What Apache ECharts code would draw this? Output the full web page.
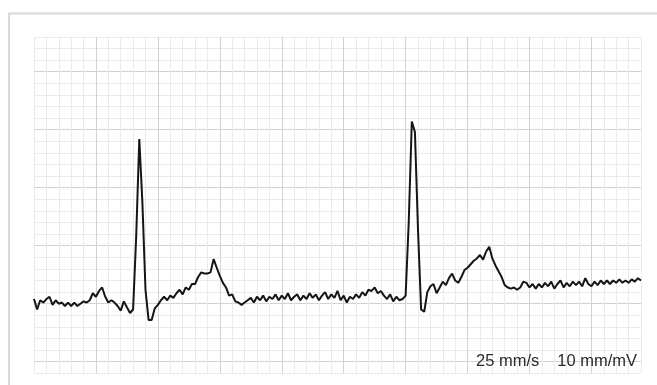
<!DOCTYPE html>
<html>
<head>
<meta charset="utf-8">
<script src="https://cdn.jsdelivr.net/npm/echarts@6/dist/echarts.min.js"></script>
<style>
html,body{margin:0;padding:0;background:#fff;}
#c{width:657px;height:385px;}
</style>
</head>
<body>
<div id="c"></div>
<script>
// Sampling: 25 mm/s paper speed, one sample every 0.01 s
const sampleStep = 0.01;
// Trace amplitude in mV (10 mm/mV), 0 = the heavy grid line near the bottom
const ecgValues = [
  0.54,0.45,0.53,0.51,0.54,0.56,0.49,0.53,0.50,0.51,
  0.48,0.51,0.48,0.51,0.48,0.50,0.52,0.51,0.53,0.59,
  0.56,0.61,0.64,0.56,0.51,0.53,0.51,0.48,0.44,0.52,
  0.47,0.42,0.45,1.08,1.92,1.37,0.62,0.36,0.36,0.46,
  0.49,0.53,0.56,0.53,0.57,0.55,0.59,0.62,0.58,0.64,
  0.62,0.67,0.67,0.73,0.77,0.76,0.76,0.77,0.885,0.81,
  0.74,0.68,0.64,0.57,0.58,0.52,0.51,0.49,0.51,0.53,
  0.55,0.51,0.56,0.53,0.57,0.52,0.56,0.54,0.58,0.53,
  0.57,0.54,0.59,0.53,0.56,0.58,0.53,0.57,0.54,0.59,
  0.55,0.58,0.53,0.57,0.60,0.54,0.58,0.55,0.61,0.53,
  0.57,0.51,0.56,0.54,0.58,0.55,0.60,0.57,0.62,0.61,
  0.64,0.59,0.61,0.57,0.54,0.58,0.52,0.56,0.53,0.54,
  0.57,1.20,2.07,1.98,1.13,0.45,0.43,0.60,0.65,0.67,
  0.59,0.64,0.69,0.66,0.72,0.76,0.70,0.68,0.73,0.79,
  0.81,0.84,0.87,0.89,0.92,0.88,0.95,0.99,0.89,0.83,
  0.78,0.73,0.66,0.64,0.63,0.64,0.62,0.64,0.69,0.68,
  0.64,0.67,0.63,0.67,0.64,0.68,0.65,0.69,0.63,0.67,
  0.70,0.64,0.68,0.65,0.69,0.66,0.69,0.65,0.72,0.67,
  0.65,0.69,0.66,0.70,0.67,0.70,0.67,0.70,0.68,0.71,
  0.68,0.70,0.68,0.71,0.69,0.72,0.70
];
const scaleLabels = ["25 mm/s", "10 mm/mV"];

const pairs = ecgValues.map((v, i) => [+(i * sampleStep).toFixed(2), v]);

const chart = echarts.init(document.getElementById('c'), null, {renderer: 'canvas'});
const minorColor = '#ebebeb';
const majorColor = '#d2d2d2';
const labelFont = '16.5px "Liberation Sans", Arial, sans-serif';
chart.setOption({
  animation: false,
  backgroundColor: '#ffffff',
  graphic: [
    {type: 'rect', shape: {x: 9, y: 13.5, width: 720, height: 420},
     style: {fill: 'none', stroke: '#d9d9d9', lineWidth: 2}, silent: true, z: 0},
    {type: 'text', left: 476, top: 353,
     style: {text: scaleLabels[0], fill: '#2b2b2b', font: labelFont}, z: 10},
    {type: 'text', right: 20, top: 353,
     style: {text: scaleLabels[1], fill: '#2b2b2b', font: labelFont}, z: 10}
  ],
  grid: [
    {left: 34, right: 16, top: 36.9, bottom: 11.7},
    {left: 34, right: 16, top: 71.7, bottom: 23.3}
  ],
  xAxis: [
    {gridIndex: 0, type: 'value', min: 0, max: 1.96, interval: 0.04,
     axisLine: {show: false}, axisTick: {show: false}, axisLabel: {show: false},
     splitLine: {show: true, lineStyle: {color: minorColor, width: 1}}},
    {gridIndex: 0, type: 'value', min: 0, max: 1.96, interval: 0.2, position: 'top',
     axisLine: {show: false}, axisTick: {show: false}, axisLabel: {show: false},
     splitLine: {show: true, showMaxLine: false, showMinLine: false, lineStyle: {color: majorColor, width: 1}}},
    {gridIndex: 1, type: 'value', min: 0, max: 1.96,
     axisLine: {show: false}, axisTick: {show: false}, axisLabel: {show: false},
     splitLine: {show: false}}
  ],
  yAxis: [
    {gridIndex: 0, type: 'value', min: -0.1, max: 2.8, interval: 0.1,
     axisLine: {show: false}, axisTick: {show: false}, axisLabel: {show: false},
     splitLine: {show: true, lineStyle: {color: minorColor, width: 1}}},
    {gridIndex: 1, type: 'value', min: 0, max: 2.5, interval: 0.5,
     axisLine: {show: false}, axisTick: {show: false}, axisLabel: {show: false},
     splitLine: {show: true, lineStyle: {color: majorColor, width: 1}}}
  ],
  series: [{
    type: 'line',
    xAxisIndex: 0, yAxisIndex: 0,
    data: pairs,
    showSymbol: false,
    symbol: 'none',
    smooth: false,
    lineStyle: {color: '#151515', width: 2},
    z: 5
  }]
});
</script>
</body>
</html>
